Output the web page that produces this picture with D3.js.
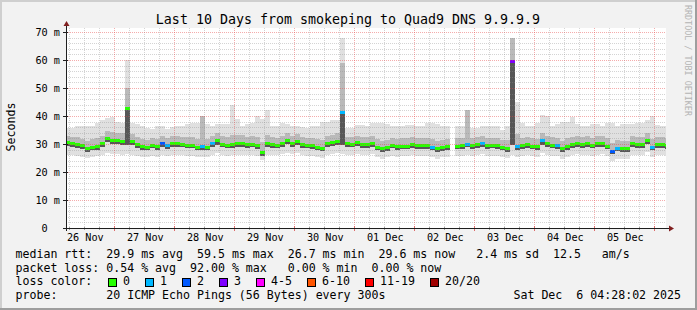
<!DOCTYPE html>
<html>
<head>
<meta charset="utf-8">
<script src="https://cdn.jsdelivr.net/npm/d3@7"></script>
<style>
body { margin: 0; background: #f2f2f2; }
svg { display: block; }
text { font-family: "DejaVu Sans Mono", monospace; white-space: pre; fill: #000; }
</style>
</head>
<body>
<svg width="697" height="310"></svg>
<script>
// graph covers the last 10 days, data consolidated in 2 hour steps
const endTime = new Date(2025, 11, 6, 4, 28, 2);
const startTime = d3.timeDay.offset(endTime, -10);

// median rtt in ms, one value per 2h step (null = no data)
const median = [
  30.6,30.3,30.0,29.5,28.5,29.1,29.2,30.2,32.1,31.5,31.4,31.2,42.9,30.9,30.0,29.3,29.1,29.8,29.3,30.2,29.5,
  30.4,30.4,30.1,29.7,29.7,29.1,29.3,29.1,30.5,31.3,30.1,29.7,29.9,30.4,30.4,30.0,30.1,29.5,27.2,30.2,
  30.0,29.8,30.5,31.4,30.5,31.0,30.0,29.7,29.6,29.1,28.7,30.2,30.8,31.2,41.3,30.2,30.1,30.6,30.0,30.0,
  30.4,29.1,28.5,28.9,29.7,29.2,29.4,29.4,29.9,29.5,29.6,29.6,29.1,28.5,28.9,29.3,null,29.4,29.5,30.1,
  29.6,30.0,30.5,29.6,29.7,29.6,29.0,28.6,59.5,29.3,29.6,29.9,29.4,29.3,31.3,30.2,29.8,29.5,28.5,29.3,
  30.0,30.5,29.9,30.2,29.7,30.2,30.5,29.4,27.6,28.7,28.6,28.6,30.2,29.9,29.9,31.5,29.1,29.9,29.9,29.6
];
// lost pings out of 20
const lossCount = [
  0,0,0,0,0,0,0,0,0,0,0,0,0,0,0,0,0,0,0,2,1,
  0,0,0,0,0,0,1,0,1,0,0,0,0,0,0,0,0,0,0,0,
  0,0,0,0,0,0,0,0,0,0,0,0,0,0,1,0,0,0,0,0,
  0,0,0,0,0,0,0,0,0,0,0,0,1,0,0,0,0,0,0,1,
  0,0,1,0,0,0,0,0,3,1,0,0,0,0,1,0,0,1,0,0,
  0,0,0,0,0,0,0,0,2,1,0,0,0,0,0,0,1,0,0,0
];
// smoke: slowest ping
const pingMax = [
  35.7,35.7,36.3,36.3,36.5,36.5,37.5,38.5,39.2,39.5,38.0,37.6,60.0,37.4,37.0,36.3,35.6,35.2,36.5,36.5,35.5,
  36.0,36.6,36.6,37.0,37.5,37.5,40.1,37.0,36.5,37.2,37.0,37.0,44.0,38.9,36.4,37.3,37.5,40.0,39.0,42.0,
  36.3,36.3,37.4,37.0,36.3,36.5,36.0,35.8,36.5,36.6,37.8,37.8,38.4,38.5,68.0,35.6,35.6,36.9,36.9,36.6,
  37.6,37.6,37.6,37.2,36.3,36.3,36.3,36.9,36.9,36.6,36.3,37.6,37.6,37.0,36.3,36.6,null,36.6,36.6,42.0,
  35.7,35.7,36.6,36.6,36.6,36.6,35.0,36.3,68.0,45.0,37.5,36.6,36.3,37.5,40.4,40.0,36.6,37.0,37.8,37.8,
  39.5,37.0,36.6,36.6,37.0,37.0,36.6,37.6,37.6,36.3,37.0,37.0,37.0,37.6,37.6,38.4,40.0,36.8,36.3,36.3
];
// smoke: upper part of the dense band
const pingHigh = [
  32.8,32.6,32.4,31.9,31.2,31.7,32.0,33.0,34.8,34.4,34.0,33.8,50.0,33.4,32.6,31.9,31.6,32.3,31.9,32.8,32.0,
  32.9,33.0,32.6,32.4,32.4,31.9,40.0,31.8,33.0,33.8,32.7,32.4,33.2,33.2,33.1,32.5,32.7,32.4,30.6,33.2,
  32.5,32.3,33.0,34.0,33.0,33.5,32.6,32.3,32.2,31.8,31.4,32.8,33.3,33.8,59.0,32.6,32.6,33.0,32.5,32.5,
  32.9,31.8,31.2,31.6,32.3,31.8,32.0,32.0,32.5,32.1,32.2,32.2,31.8,31.2,31.6,31.9,null,32.0,32.1,42.0,
  32.0,32.5,33.0,32.2,32.3,32.2,31.6,31.3,68.0,33.5,32.2,32.5,32.0,31.9,34.0,32.9,32.4,32.1,31.2,32.0,
  32.6,33.0,32.4,32.7,32.3,32.8,33.0,32.0,30.4,31.3,31.2,31.2,32.7,32.5,32.5,34.0,31.8,32.4,32.4,32.1
];
// smoke: lower part of the dense band
const pingLow = [
  29.3,29.0,28.7,28.2,27.3,27.8,27.9,28.9,30.6,30.0,30.0,29.8,29.6,29.5,28.7,28.0,27.8,28.5,28.0,28.9,28.2,
  29.1,29.1,28.8,28.4,28.4,27.8,28.0,27.8,29.1,29.8,28.8,28.4,28.6,29.1,29.0,28.7,28.8,28.2,25.8,28.9,
  28.7,28.5,29.1,29.9,29.1,29.6,28.7,28.4,28.3,27.8,27.4,28.9,29.4,29.8,29.6,28.9,28.8,29.2,28.7,28.7,
  29.0,27.8,27.2,27.6,28.4,27.9,28.1,28.1,28.6,28.2,28.3,28.3,27.8,27.2,27.6,28.0,null,28.1,28.2,28.8,
  28.3,28.7,29.1,28.3,28.4,28.3,27.7,27.3,29.6,28.0,28.3,28.6,28.1,28.0,29.8,28.9,28.5,28.2,27.2,28.0,
  28.7,29.1,28.6,28.9,28.4,28.9,29.1,28.1,26.3,27.4,27.3,27.3,28.9,28.6,28.6,30.0,27.8,28.6,28.6,28.3
];
// smoke: fastest ping
const pingMin = [
  26.0,26.2,25.8,25.5,25.0,25.4,25.8,26.2,26.8,26.5,26.3,26.2,26.5,26.2,25.8,25.4,25.2,25.6,25.4,26.0,25.6,
  26.2,26.2,26.0,25.7,25.7,25.2,25.4,25.2,26.2,26.8,26.0,25.8,25.9,26.2,26.2,26.0,26.0,25.6,24.2,26.2,
  26.0,25.9,26.4,26.8,26.4,26.7,26.0,25.8,25.7,25.2,24.9,26.2,26.6,26.8,26.6,26.2,26.1,26.4,26.0,26.0,
  26.3,25.3,24.8,25.2,25.8,25.4,25.6,25.6,26.0,25.6,25.7,25.7,25.3,24.8,25.2,25.5,null,25.6,25.6,26.0,
  25.7,26.0,26.4,25.7,25.8,25.7,25.2,24.9,26.0,25.4,25.7,26.0,25.6,25.4,26.8,26.2,25.8,25.6,24.8,25.4,
  26.0,26.4,26.0,26.2,25.8,26.2,26.4,25.6,24.0,24.8,24.8,24.8,26.2,26.0,26.0,27.0,25.4,26.0,26.0,25.7
];

const yTicks = [0, 10, 20, 30, 40, 50, 60, 70];
const lossLabels = ["0", "1", "2", "3", "4-5", "6-10", "11-19", "20/20"];
const lossColors = ["#26ff00", "#00b8ff", "#0059ff", "#7e00ff", "#ff00ff", "#ff5500", "#ff0000", "#a00000"];
const lossLimits = [1, 2, 3, 4, 6, 11, 20];

const titleText = "Last 10 Days from smokeping to Quad9 DNS 9.9.9.9";
const rttRow = "median rtt:".padEnd(13) + "29.9 ms avg  59.5 ms max  26.7 ms min  29.6 ms now   2.4 ms sd  12.5   am/s";
const lossRow = "packet loss:".padEnd(13) + "0.54 % avg  92.00 % max   0.00 % min  0.00 % now";
const probeRow = "probe:".padEnd(13) + "20 ICMP Echo Pings (56 Bytes) every 300s";
const stampText = "Sat Dec  6 04:28:02 2025";

var svg = d3.select("svg");
const W = 697, H = 310;
const plotLeft = 66, plotTop = 28, pw = 600, ph = 200;
const plotBottom = plotTop + ph;
const CW = 7; // legend char width

var x = d3.scaleTime().domain([startTime, endTime]).range([plotLeft, plotLeft + pw]);
var y = d3.scaleLinear().domain([0, 200 / 2.8]).range([plotBottom, plotTop]);
var lossColor = d3.scaleThreshold().domain(lossLimits).range(lossColors);

// bins start on even hours
var binStart = d3.timeHour.every(2).floor(startTime);
var bins = median.map((m, i) => ({
  t0: d3.timeHour.offset(binStart, 2 * i),
  t1: d3.timeHour.offset(binStart, 2 * i + 2),
  med: m, loss: lossCount[i],
  max: pingMax[i], hi: pingHigh[i], lo: pingLow[i], min: pingMin[i]
})).filter(d => d.med != null);

// background + 3d frame
svg.append("rect").attr("width", W).attr("height", H).attr("fill", "#f2f2f2");
svg.append("path").attr("d", `M0,1H${W}M1,0V${H}`).attr("stroke", "#cfcfcf").attr("stroke-width", 2);
svg.append("path").attr("d", `M0,${H-1}H${W}M${W-1},0V${H}`).attr("stroke", "#9e9e9e").attr("stroke-width", 2);

svg.append("rect").attr("x", plotLeft).attr("y", plotTop).attr("width", pw).attr("height", ph).attr("fill", "#fff");

svg.append("clipPath").attr("id", "clip")
  .append("rect").attr("x", plotLeft).attr("y", plotTop).attr("width", pw).attr("height", ph);

var g = svg.append("g").attr("clip-path", "url(#clip)");

function band(lowKey, highKey, color) {
  g.append("g").selectAll("rect").data(bins).enter().append("rect")
    .attr("x", d => x(d.t0))
    .attr("width", d => x(d.t1) - x(d.t0))
    .attr("y", d => y(d[highKey]))
    .attr("height", d => Math.max(0, y(d[lowKey]) - y(d[highKey])))
    .attr("fill", color)
    .attr("shape-rendering", "crispEdges");
}
band("min", "max", "#e0e0e0");
band("lo", "hi", "#bababa");
band("lo", "med", "#575757");

// median, coloured by loss
g.append("g").selectAll("rect").data(bins).enter().append("rect")
  .attr("x", d => x(d.t0))
  .attr("width", d => x(d.t1) - x(d.t0))
  .attr("y", d => Math.round(y(d.med)) - 1)
  .attr("height", 3)
  .attr("fill", d => lossColor(d.loss))
  .attr("shape-rendering", "crispEdges");

// grid on top
var grid = svg.append("g").attr("shape-rendering", "crispEdges").attr("stroke-dasharray", "1,1");
var days = d3.timeDay.range(startTime, endTime);
var quarters = d3.timeHour.every(6).range(startTime, endTime).filter(t => t.getHours() != 0);
var minorY = d3.range(2, 71, 2).filter(v => v % 10 != 0);
var majorY = yTicks.filter(v => v > 0);
var px = t => Math.floor(x(t)) + 0.5;
var py = v => Math.round(y(v)) + 0.5;

grid.selectAll(".vmin").data(quarters).enter().append("line")
  .attr("x1", px).attr("x2", px).attr("y1", plotTop).attr("y2", plotBottom)
  .attr("stroke", "rgba(143,143,143,0.38)");
grid.selectAll(".hmin").data(minorY).enter().append("line")
  .attr("y1", py).attr("y2", py).attr("x1", plotLeft).attr("x2", plotLeft + pw)
  .attr("stroke", "rgba(143,143,143,0.38)");
grid.selectAll(".vmaj").data(days).enter().append("line")
  .attr("x1", px).attr("x2", px).attr("y1", plotTop).attr("y2", plotBottom)
  .attr("stroke", "rgba(230,70,70,0.45)");
grid.selectAll(".hmaj").data(majorY).enter().append("line")
  .attr("y1", py).attr("y2", py).attr("x1", plotLeft).attr("x2", plotLeft + pw)
  .attr("stroke", "rgba(230,70,70,0.45)");

// ticks outside the canvas
var ticks = svg.append("g").attr("shape-rendering", "crispEdges");
ticks.selectAll(".tq").data(quarters).enter().append("line")
  .attr("x1", px).attr("x2", px).attr("y1", plotBottom - 1).attr("y2", plotBottom + 2)
  .attr("stroke", "#9a9a9a");
ticks.selectAll(".td").data(days).enter().append("line")
  .attr("x1", px).attr("x2", px).attr("y1", plotBottom - 2).attr("y2", plotBottom + 3)
  .attr("stroke", "#e06a6a");
ticks.selectAll(".ty").data(yTicks).enter().append("line")
  .attr("y1", py).attr("y2", py).attr("x1", plotLeft - 3).attr("x2", plotLeft + 2)
  .attr("stroke", "#1f1f1f");

// axes with arrows
svg.append("line").attr("x1", plotLeft + 0.5).attr("x2", plotLeft + 0.5).attr("y1", plotBottom + 3).attr("y2", 25)
  .attr("stroke", "#1f1f1f").attr("shape-rendering", "crispEdges");
svg.append("line").attr("x1", plotLeft - 3).attr("x2", 670).attr("y1", plotBottom + 0.5).attr("y2", plotBottom + 0.5)
  .attr("stroke", "#1f1f1f").attr("shape-rendering", "crispEdges");
svg.append("path").attr("d", `M${plotLeft - 2.5},26L${plotLeft + 0.5},21L${plotLeft + 3.5},26Z`).attr("fill", "#801f1f");
svg.append("path").attr("d", `M669,${plotBottom - 2.5}L674,${plotBottom + 0.5}L669,${plotBottom + 3.5}Z`).attr("fill", "#801f1f");

// y axis labels
var yAxis = d3.axisLeft(y).tickValues(yTicks).tickSize(0).tickPadding(6)
  .tickFormat(d => d === 0 ? "0  " : d + " m");
var ya = svg.append("g").attr("transform", `translate(${plotLeft},0)`).call(yAxis);
ya.select(".domain").remove();
ya.selectAll("text").attr("font-family", "DejaVu Sans Mono").attr("font-size", "10.2px")
  .attr("fill", "#000").attr("dy", "0.34em");

// x axis labels at noon
var noons = d3.timeDay.range(d3.timeDay.floor(startTime), endTime).map(t => d3.timeHour.offset(t, 12))
  .filter(t => t > startTime && t < endTime);
var xAxis = d3.axisBottom(x).tickValues(noons).tickSize(0).tickPadding(0)
  .tickFormat(d3.timeFormat("%d %b"));
var xa = svg.append("g").attr("transform", `translate(0,${plotBottom})`).call(xAxis);
xa.select(".domain").remove();
xa.selectAll("text").attr("font-family", "DejaVu Sans Mono").attr("font-size", "10.2px")
  .attr("fill", "#000").attr("dy", null).attr("y", 12.5);

// title, unit, watermark
svg.append("text").attr("x", 348).attr("y", 24).attr("text-anchor", "middle")
  .attr("font-size", "13.3px").text(titleText);
svg.append("text").attr("transform", `translate(15,127) rotate(-90)`).attr("text-anchor", "middle")
  .attr("font-size", "11.6px").text("Seconds");
svg.append("text").attr("transform", `translate(685,5) rotate(90)`)
  .attr("font-size", "8.4px").style("fill", "#b4b4b4").text("RRDTOOL / TOBI OETIKER");

// legend
var legend = svg.append("g").attr("font-size", "11.6px");
legend.append("text").attr("x", 15.5).attr("y", 258).text(rttRow);
legend.append("text").attr("x", 15.5).attr("y", 271.7).text(lossRow);
legend.append("text").attr("x", 15.5).attr("y", 285.4).text("loss color:");
legend.append("text").attr("x", 15.5).attr("y", 299).text(probeRow);
legend.append("text").attr("x", 681).attr("y", 299).attr("text-anchor", "end").text(stampText);

var bx = 108;
lossLabels.forEach((lab, i) => {
  legend.append("rect").attr("x", bx + 0.5).attr("y", 278.5).attr("width", 8).attr("height", 8)
    .attr("fill", lossColors[i]).attr("stroke", "#000").attr("shape-rendering", "crispEdges");
  legend.append("text").attr("x", bx + 15).attr("y", 285.4).text(lab);
  bx = bx + 15 + lab.length * CW + 15;
});
</script>
</body>
</html>
